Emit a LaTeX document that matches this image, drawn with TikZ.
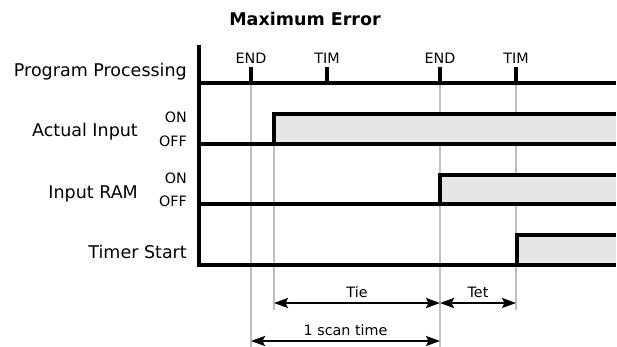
\documentclass[tikz,border=0pt]{standalone}
\usepackage{fontspec}
\setmainfont{DejaVu Sans}
\usetikzlibrary{arrows.meta}
\definecolor{guide}{HTML}{BFBFBF}
\definecolor{hifill}{HTML}{E6E6E6}
\begin{document}
\begin{tikzpicture}[x=1pt,y=-1pt,
  sig/.style={line width=3.3pt},
  tick/.style={line width=3.3pt},
  guideline/.style={guide, line width=1.4pt},
  dim/.style={line width=2.2pt, {Stealth[length=14pt,width=10pt,inset=2.5pt]}-{Stealth[length=14pt,width=10pt,inset=2.5pt]}},
  biglbl/.style={font=\fontsize{17.5}{20}\selectfont, inner sep=0pt},
  smlbl/.style={font=\fontsize{14.3}{16}\selectfont, inner sep=0pt},
  titlelbl/.style={font=\fontsize{17.5}{20}\selectfont\bfseries, inner sep=0pt}]
\useasboundingbox (0,0) rectangle (617,347);
% key time positions
\coordinate (tE1) at (251,83);
\coordinate (tT1) at (327,83);
\coordinate (tE2) at (440,83);
\coordinate (tT2) at (516,83);
\coordinate (tIn) at (274,144);
% guide lines
\coordinate (gE1b) at (251,347);
\coordinate (gInb) at (274,310);
\coordinate (gE2b) at (440,347);
\coordinate (gT2b) at (516,310);
\draw[guideline] (tE1) -- (gE1b);
\draw[guideline] (tIn) -- (gInb);
\draw[guideline] (tE2) -- (gE2b);
\draw[guideline] (tT2) -- (gT2b);
% fills
\fill[hifill] (274,114) rectangle (616,144);
\fill[hifill] (440,175) rectangle (616,204);
\fill[hifill] (517,235) rectangle (616,265);
% axis and signals
\draw[sig] (199,45) -- (199,265) -- (616,265);
\draw[sig] (199,83) -- (616,83);
\draw[sig] (199,144) -- (616,144);
\draw[sig] (274,144) -- (274,114) -- (616,114);
\draw[sig] (199,204) -- (616,204);
\draw[sig] (440,204) -- (440,175) -- (616,175);
\draw[sig] (517,265) -- (517,235) -- (616,235);
% ticks
\draw[tick] (251,67) -- (tE1);
\draw[tick] (327,67) -- (tT1);
\draw[tick] (440,67) -- (tE2);
\draw[tick] (516,67) -- (tT2);
% tick labels
\node[smlbl, anchor=base] (lE1) at (251,64) {END};
\node[smlbl, anchor=base] (lT1) at (327,64) {TIM};
\node[smlbl, anchor=base] (lE2) at (440,64) {END};
\node[smlbl, anchor=base] (lT2) at (516,64) {TIM};
% title
\node[titlelbl, anchor=base] (title) at (305,26) {Maximum Error};
% row labels
\node[biglbl, anchor=base east] (pp) at (187,77) {Program Processing};
\node[biglbl, anchor=base east] (ai) at (138,137) {Actual Input};
\node[smlbl, anchor=base east] (aion) at (187,123) {ON};
\node[smlbl, anchor=base east] (aioff) at (187,147) {OFF};
\node[biglbl, anchor=base east] (ir) at (138,198) {Input RAM};
\node[smlbl, anchor=base east] (iron) at (187,183) {ON};
\node[smlbl, anchor=base east] (iroff) at (187,207) {OFF};
\node[biglbl, anchor=base east] (ts) at (187,258) {Timer Start};
% dimension arrows
\coordinate (aTie1) at (274,303);
\coordinate (aTie2) at (440,303);
\coordinate (aTet2) at (516,303);
\coordinate (aS1) at (251,341);
\coordinate (aS2) at (440,341);
\draw[dim] (aTie1) -- (aTie2);
\draw[dim] (aTie2) -- (aTet2);
\draw[dim] (aS1) -- (aS2);
\node[smlbl, anchor=base] (tie) at (357,297) {Tie};
\node[smlbl, anchor=base] (tet) at (478,297) {Tet};
\node[smlbl, anchor=base] (scan) at (345.5,335) {1 scan time};
\end{tikzpicture}
\end{document}
